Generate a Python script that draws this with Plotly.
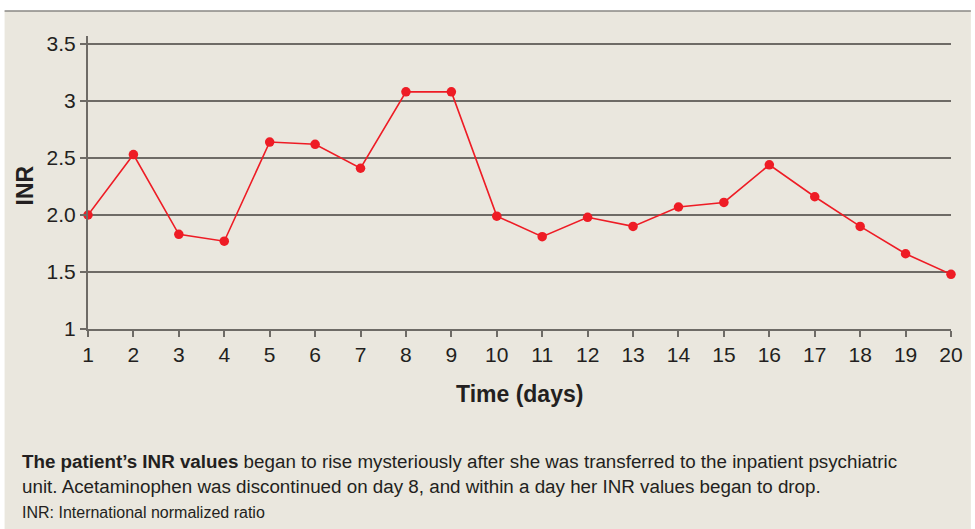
import plotly.graph_objects as go

days = list(range(1, 21))
inr = [2.00, 2.53, 1.83, 1.77, 2.64, 2.62, 2.41, 3.08, 3.08, 1.99,
       1.81, 1.98, 1.90, 2.07, 2.11, 2.44, 2.16, 1.90, 1.66, 1.48]
y_tickvals = [1, 1.5, 2.0, 2.5, 3, 3.5]
y_ticktext = ["1", "1.5", "2.0", "2.5", "3", "3.5"]
x_ticktext = [str(d) for d in days]

BG = "#EAE7DE"
RED = "#EE1C25"
DARK = "#231F20"
GRID = "#6E6B66"

W, H = 975, 529
L, R, T, B = 88, 18, 36, 200
pw = W - L - R
ph = H - T - B

def px_x(px):
    return (px - L) / pw

def px_y(py):
    return (H - B - py) / ph

fig = go.Figure()
fig.add_trace(go.Scatter(
    x=days, y=inr, mode="lines+markers",
    line=dict(color=RED, width=1.6),
    marker=dict(color=RED, size=9.5),
    showlegend=False, cliponaxis=False,
))

fig.update_layout(
    width=W, height=H,
    margin=dict(l=L, r=R, t=T, b=B),
    paper_bgcolor="white",
    plot_bgcolor="rgba(0,0,0,0)",
    font=dict(family="Liberation Sans, Arial, sans-serif", color=DARK),
    xaxis=dict(
        range=[1, 20], tickvals=days, ticktext=x_ticktext,
        showgrid=False, zeroline=False,
        showline=True, linecolor=GRID, linewidth=2,
        ticks="outside", ticklen=6, tickwidth=1.5, tickcolor=GRID,
        tickfont=dict(size=21, color=DARK),
    ),
    yaxis=dict(
        range=[1, 3.57], tickvals=y_tickvals, ticktext=y_ticktext,
        showgrid=True, gridcolor=GRID, gridwidth=1.5, zeroline=False,
        showline=True, linecolor=GRID, linewidth=2,
        ticks="outside", ticklen=6, tickwidth=1.5, tickcolor=GRID,
        tickfont=dict(size=21, color=DARK),
    ),
    shapes=[
        dict(type="rect", xref="paper", yref="paper", layer="below",
             x0=px_x(4), x1=px_x(W + 2), y0=px_y(H + 2), y1=px_y(11),
             fillcolor=BG, line=dict(width=0)),
        dict(type="line", xref="paper", yref="paper", layer="below",
             x0=px_x(4), x1=px_x(W + 2), y0=px_y(11), y1=px_y(11),
             line=dict(color="#8A8884", width=1.5)),
    ],
    annotations=[
        dict(text="<b>Time (days)</b>", xref="paper", yref="paper",
             x=px_x(523), y=px_y(394), xanchor="center", yanchor="middle",
             showarrow=False, font=dict(size=23, color=DARK)),
        dict(text="<b>INR</b>", xref="paper", yref="paper", textangle=-90,
             x=px_x(25), y=px_y(185), xanchor="center", yanchor="middle",
             showarrow=False, font=dict(size=23, color=DARK)),
        dict(text="<b>The patient\u2019s INR values</b> began to rise mysteriously after she was transferred to the inpatient psychiatric",
             xref="paper", yref="paper", x=px_x(20), y=px_y(461),
             xanchor="left", yanchor="middle", showarrow=False,
             font=dict(size=18.8, color=DARK)),
        dict(text="unit. Acetaminophen was discontinued on day 8, and within a day her INR values began to drop.",
             xref="paper", yref="paper", x=px_x(20), y=px_y(486),
             xanchor="left", yanchor="middle", showarrow=False,
             font=dict(size=18.8, color=DARK)),
        dict(text="INR: International normalized ratio",
             xref="paper", yref="paper", x=px_x(20), y=px_y(512),
             xanchor="left", yanchor="middle", showarrow=False,
             font=dict(size=16, color=DARK)),
    ],
)

fig.write_html("out.html",
               config={"displayModeBar": False},
               post_script="document.body.style.margin='0';document.body.style.overflow='hidden';")
